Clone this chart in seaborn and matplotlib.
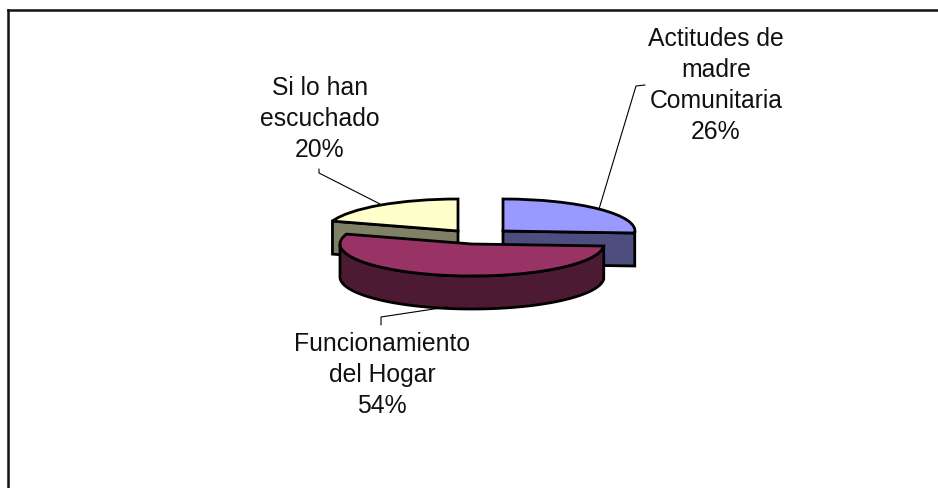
import numpy as np
import matplotlib
matplotlib.use('Agg')
import matplotlib.pyplot as plt
import seaborn as sns

categorias = ['Actitudes de\nmadre\nComunitaria', 'Funcionamiento\ndel Hogar', 'Si lo han\nescuchado']
valores = [26, 54, 20]
etiquetas = ['26%', '54%', '20%']
colores_top = ['#9999FF', '#993366', '#FFFFCC']
colores_lado = ['#4D4D80', '#4D1A33', '#808066']

sns.set_theme(style='white')
plt.rcParams['font.family'] = ['Liberation Sans', 'DejaVu Sans']

W, H = 938, 489
# layout in pixels of the picture
RX, RY = 132, 32
CX, CY = 472, 245
DEPTH = 33 / RY
centros_px = [(503, 232), (472, 245), (458, 232)]

def d(px, py):
    return (px - CX) / RX, (CY - py) / RY

fig = plt.figure(figsize=(W / 100, H / 100), dpi=100, facecolor='white')
ax = fig.add_axes([8 / W, 0, (W - 8) / W, 1 - 11 / H])

wedges, _ = ax.pie(valores, startangle=90, counterclock=False, colors=colores_top,
                   wedgeprops=dict(edgecolor='black', linewidth=2))

ax.set_aspect('auto')
ax.set_xlim(d(8, 0)[0], d(W, 0)[0])
ax.set_ylim(d(0, H)[1], d(0, 11)[1])
ax.set_frame_on(True)
for s in ['right', 'bottom']:
    ax.spines[s].set_visible(False)
for s in ['left', 'top']:
    ax.spines[s].set_visible(True)
    ax.spines[s].set_color('#111111')
    ax.spines[s].set_linewidth(1.8)

z_top = [3, 6, 3]
z_lado = [2, 5, 2]

for i, w in enumerate(wedges):
    c = d(*centros_px[i])
    w.set_center(c)
    w.set_zorder(z_top[i])
    t1, t2 = w.theta1, w.theta2
    lado = dict(facecolor=colores_lado[i], edgecolor='black', linewidth=2, zorder=z_lado[i])
    if i == 1:
        # outer wall, lower half of the ellipse
        t = np.radians(np.linspace(-180, t2, 80))
        x = c[0] + np.cos(t)
        y = c[1] + np.sin(t)
        ax.fill(np.r_[x, x[::-1]], np.r_[y, y[::-1] - DEPTH], **lado)
    else:
        # cut face of the exploded slice, seen from the front
        a = np.radians(t1 if i == 0 else t2)
        ex, ey = c[0] + np.cos(a), c[1] + np.sin(a)
        ax.fill([c[0], ex, ex, c[0]], [c[1], ey, ey - DEPTH, c[1] - DEPTH], **lado)

# leader lines
lineas = [
    [(645, 86), (636, 87), (599, 210)],
    [(381, 326), (381, 318), (447, 308)],
    [(319, 170), (319, 174), (380, 205)],
]
for ln in lineas:
    pts = np.array([d(*p) for p in ln])
    ax.plot(pts[:, 0], pts[:, 1], color='black', lw=0.8, zorder=7)

pos_txt = [(716, 85.5), (382, 375), (320, 119)]
for i in range(3):
    x, y = d(*pos_txt[i])
    ax.text(x, y, categorias[i] + '\n' + etiquetas[i], ha='center', va='center',
            fontsize=17.8, linespacing=1.38, color='#111111', zorder=8)

fig.savefig('out.png', dpi=100)
